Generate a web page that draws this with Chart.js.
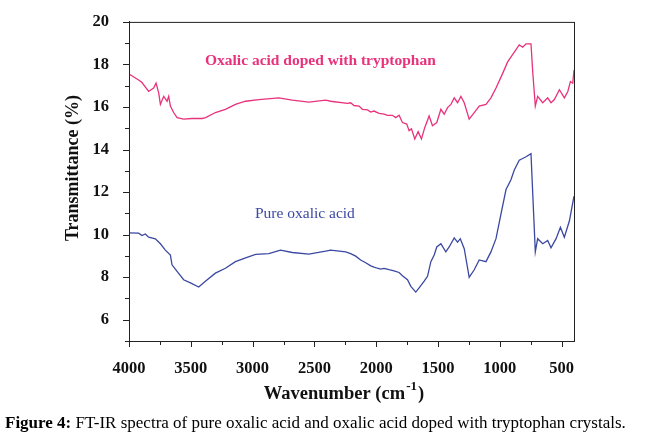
<!DOCTYPE html>
<html>
<head>
<meta charset="utf-8">
<script src="https://cdn.jsdelivr.net/npm/chart.js@4.4.1/dist/chart.umd.min.js"></script>
<style>
  html, body { margin: 0; padding: 0; background: #fff; }
  canvas { display: block; }
</style>
</head>
<body>
<canvas id="ftir" width="647" height="438"></canvas>
<script>
// doped sample (top trace)
const dopedWave = [4000,3922,3895,3841,3801,3781,3760,3746,3719,3692,3679,3665,3639,3611,3558,3490,3408,3380,3301,3220,3139,3057,2950,2788,2679,2545,2409,2369,2233,2207,2180,2139,2112,2071,2044,2018,1977,1937,1909,1869,1842,1815,1788,1753,1734,1715,1688,1661,1634,1607,1572,1545,1510,1477,1450,1423,1396,1369,1342,1315,1288,1248,1207,1167,1112,1072,1031,977,937,883,843,815,788,748,734,713,694,653,613,586,559,518,478,450,429,410,400];
const dopedTrans = [17.55,17.27,17.15,16.73,16.89,17.12,16.66,16.12,16.5,16.27,16.5,16.04,15.74,15.5,15.43,15.46,15.46,15.5,15.74,15.89,16.12,16.27,16.35,16.43,16.32,16.23,16.32,16.27,16.17,16.2,16.07,16.04,15.89,15.86,15.76,15.81,15.7,15.66,15.61,15.61,15.5,15.61,15.27,15.2,14.89,14.97,14.5,14.84,14.5,15.04,15.58,15.12,15.27,15.89,15.66,15.97,16.12,16.43,16.2,16.5,16.2,15.43,15.74,16.04,16.12,16.43,16.89,17.58,18.12,18.58,18.92,18.81,18.97,18.97,17.66,16.04,16.5,16.2,16.43,16.2,16.35,16.81,16.43,16.73,17.2,17.12,17.74];

// pure oxalic acid (bottom trace)
const pureWave = [4000,3922,3895,3868,3841,3787,3746,3706,3665,3652,3611,3558,3503,3436,3382,3301,3220,3139,3057,2976,2869,2774,2679,2545,2409,2369,2247,2207,2166,2126,2085,2044,2018,1991,1964,1937,1896,1856,1815,1788,1747,1720,1680,1653,1612,1585,1558,1531,1510,1477,1437,1410,1369,1342,1320,1288,1248,1207,1167,1112,1072,1031,991,950,910,883,843,815,788,748,734,713,694,653,613,586,545,510,478,437,400];
const pureTrans = [10.08,10.07,9.96,10.03,9.88,9.8,9.57,9.27,9.04,8.58,8.27,7.88,7.73,7.54,7.81,8.19,8.42,8.73,8.91,9.07,9.11,9.27,9.16,9.08,9.22,9.27,9.19,9.11,8.99,8.81,8.68,8.53,8.47,8.42,8.38,8.41,8.35,8.3,8.22,8.07,7.88,7.57,7.3,7.5,7.81,8.04,8.73,9.04,9.42,9.57,9.19,9.42,9.85,9.65,9.81,9.34,7.99,8.35,8.81,8.73,9.19,9.81,10.96,12.12,12.58,13.04,13.5,13.58,13.66,13.81,11.96,9.19,9.81,9.57,9.73,9.38,9.81,10.35,9.88,10.65,11.81];

const xTicks = [500,1000,1500,2000,2500,3000,3500,4000];
const yTicks = [6,8,10,12,14,16,18,20];

const PINK = '#e8327c';
const BLUE = '#3b48a2';
const SERIF = '"Liberation Serif", "DejaVu Serif", serif';

const toPoints = (xs, ys) => xs.map((x, i) => ({ x: x, y: ys[i] }));

// frame, tick marks, titles, in-plot labels and the caption
const decorations = {
  id: 'decorations',
  afterDraw(chart) {
    const c = chart.ctx;
    const a = chart.chartArea;
    const sx = chart.scales.x, sy = chart.scales.y;
    c.save();
    c.strokeStyle = '#222';
    c.lineWidth = 1;
    c.strokeRect(a.left + 0.5, a.top + 0.5, a.right - a.left, a.bottom - a.top);

    c.beginPath();
    for (let w = 500; w <= 4000; w += 250) {
      const px = Math.round(sx.getPixelForValue(w)) + 0.5;
      const len = w % 500 === 0 ? 6 : 4;
      c.moveTo(px, a.bottom);
      c.lineTo(px, a.bottom + len);
    }
    for (let t = 5; t <= 20; t += 1) {
      const py = Math.round(sy.getPixelForValue(t)) + 0.5;
      const len = t % 2 === 0 ? 6 : 4;
      c.moveTo(a.left, py);
      c.lineTo(a.left - len, py);
    }
    c.stroke();

    // y title
    c.fillStyle = '#111';
    c.font = 'bold 18px ' + SERIF;
    c.textAlign = 'center';
    c.textBaseline = 'middle';
    c.save();
    c.translate(73, 168);
    c.rotate(-Math.PI / 2);
    c.fillText('Transmittance (%)', 0, 0);
    c.restore();

    // x title with superscript
    c.textBaseline = 'alphabetic';
    c.textAlign = 'left';
    const main = 'Wavenumber (cm', sup = '-1', close = ')';
    c.font = 'bold 18.5px ' + SERIF;
    const wMain = c.measureText(main).width;
    const wClose = c.measureText(close).width;
    c.font = 'bold 13px ' + SERIF;
    const wSup = c.measureText(sup).width;
    const x0 = 343 - (wMain + wSup + wClose) / 2;
    c.font = 'bold 18.5px ' + SERIF;
    c.fillText(main, x0, 399);
    c.font = 'bold 13px ' + SERIF;
    c.fillText(sup, x0 + wMain + 1, 390);
    c.font = 'bold 18.5px ' + SERIF;
    c.fillText(close, x0 + wMain + wSup + 2, 399);

    // series labels
    c.font = 'bold 15.5px ' + SERIF;
    c.fillStyle = PINK;
    c.fillText('Oxalic acid doped with tryptophan', 205, 65);
    c.font = '15.5px ' + SERIF;
    c.fillStyle = BLUE;
    c.fillText('Pure oxalic acid', 255, 218);

    // caption
    c.fillStyle = '#000';
    c.font = 'bold 17px ' + SERIF;
    const fig = 'Figure 4:';
    c.fillText(fig, 5, 428);
    const wf = c.measureText(fig).width;
    c.font = '17px ' + SERIF;
    c.fillText(' FT-IR spectra of pure oxalic acid and oxalic acid doped with tryptophan crystals.', 5 + wf, 428);
    c.restore();
  }
};

new Chart(document.getElementById('ftir'), {
  type: 'line',
  data: {
    datasets: [
      {
        label: 'Oxalic acid doped with tryptophan',
        data: toPoints(dopedWave, dopedTrans),
        borderColor: PINK,
        borderWidth: 1.3,
        pointRadius: 0,
        tension: 0
      },
      {
        label: 'Pure oxalic acid',
        data: toPoints(pureWave, pureTrans),
        borderColor: BLUE,
        borderWidth: 1.3,
        pointRadius: 0,
        tension: 0
      }
    ]
  },
  options: {
    responsive: false,
    animation: false,
    layout: { padding: { top: 16, right: 73, left: 0, bottom: 0 } },
    plugins: {
      legend: { display: false },
      tooltip: { enabled: false }
    },
    scales: {
      x: {
        type: 'linear',
        reverse: true,
        min: 400,
        max: 4000,
        afterBuildTicks: s => { s.ticks = xTicks.map(v => ({ value: v })); },
        afterFit: s => { s.height = 97; },
        ticks: {
          font: { family: SERIF, size: 16.5, weight: 'bold' },
          color: '#111',
          padding: 10,
          maxRotation: 0,
          autoSkip: false,
          callback: v => String(v)
        },
        grid: { display: false },
        border: { display: true, color: '#222', width: 1 }
      },
      y: {
        min: 5,
        max: 20,
        afterBuildTicks: s => { s.ticks = yTicks.map(v => ({ value: v })); },
        afterFit: s => { s.width = 129; },
        ticks: {
          font: { family: SERIF, size: 16.5, weight: 'bold' },
          color: '#111',
          padding: 12,
          callback: v => String(v)
        },
        grid: { display: false },
        border: { display: true, color: '#222', width: 1 }
      }
    }
  },
  plugins: [decorations]
});
</script>
</body>
</html>
